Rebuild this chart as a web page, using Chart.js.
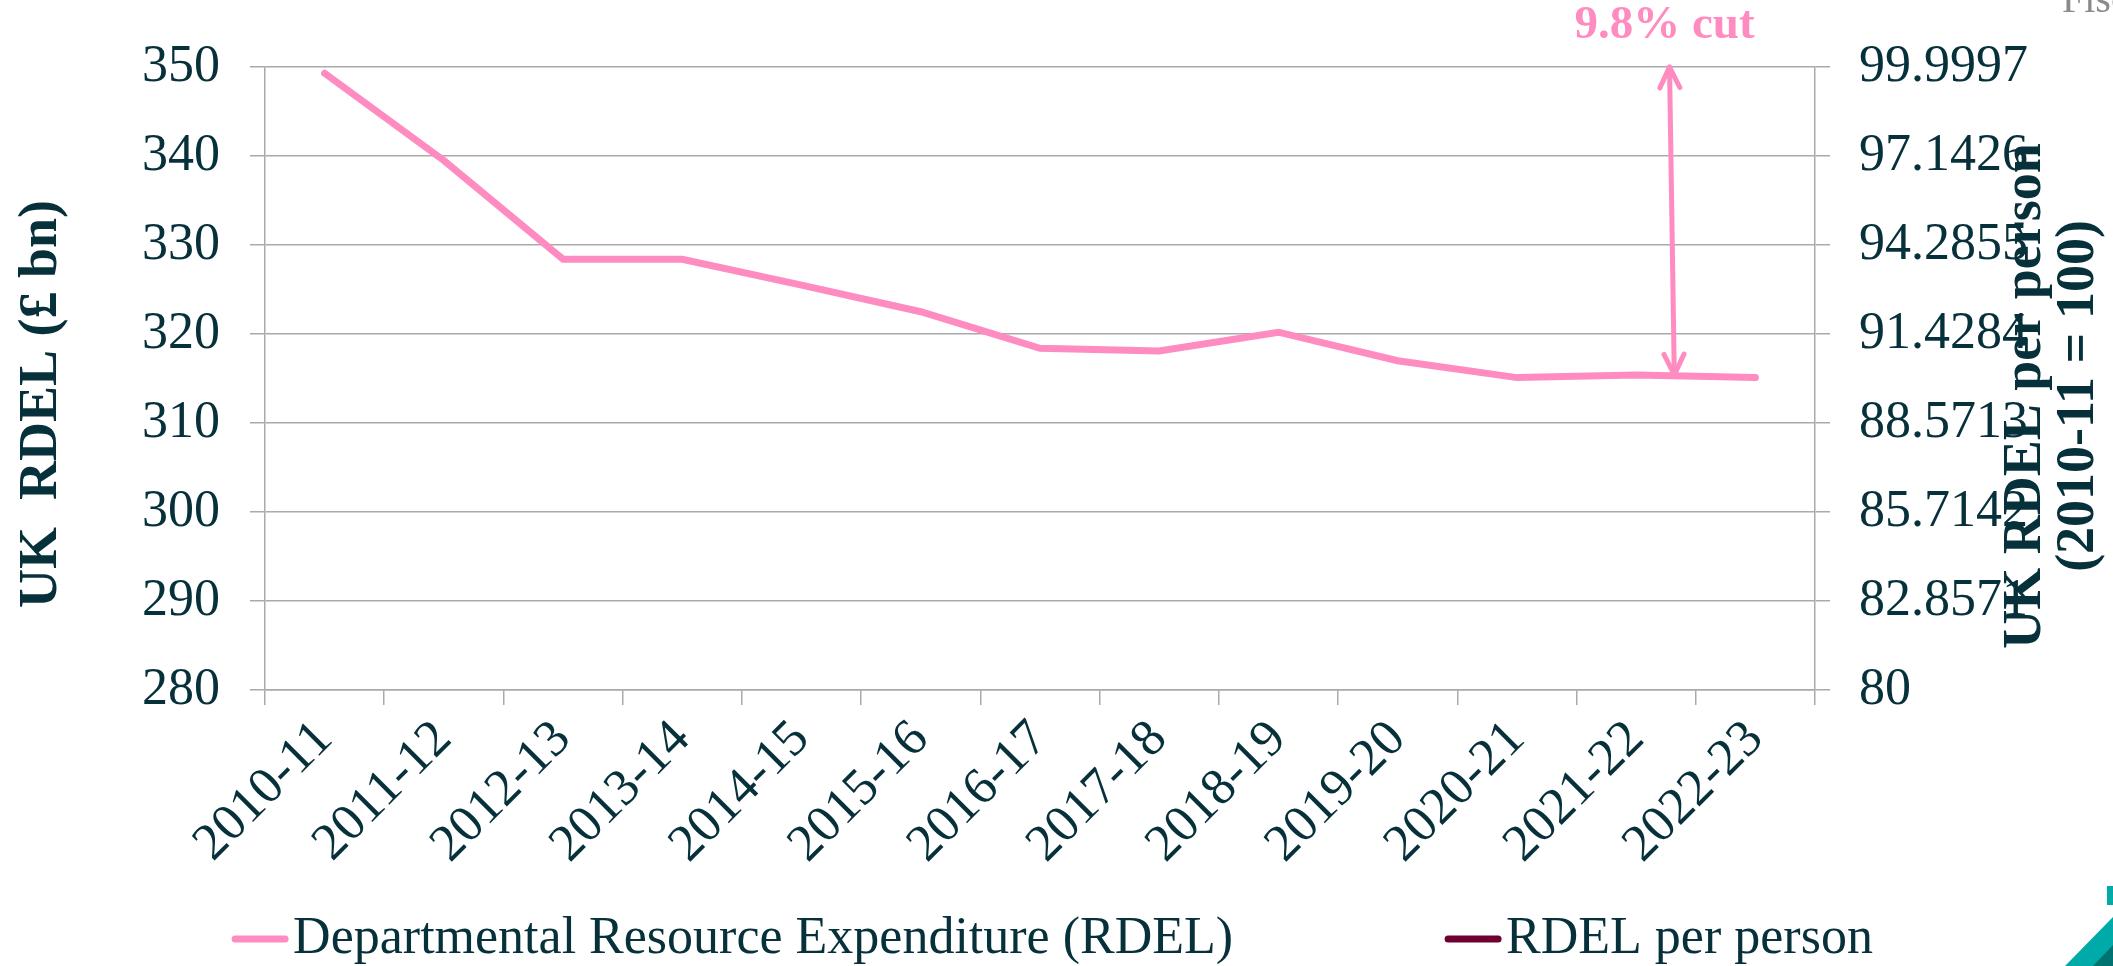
<!DOCTYPE html>
<html>
<head>
<meta charset="utf-8">
<script src="https://cdn.jsdelivr.net/npm/chart.js@4.4.0/dist/chart.umd.min.js"></script>
<style>
  html, body { margin: 0; padding: 0; background: #fff; }
  #wrap { width: 2113px; height: 966px; }
</style>
</head>
<body>
<div id="wrap"><canvas id="rdelChart" width="2113" height="966"></canvas></div>
<script>
const years = ["2010-11", "2011-12", "2012-13", "2013-14", "2014-15", "2015-16", "2016-17",
  "2017-18", "2018-19", "2019-20", "2020-21", "2021-22", "2022-23"];
const rdel = [349.3, 339.5, 328.4, 328.4, 325.5, 322.5, 318.4, 318.1, 320.2, 317.0, 315.1, 315.4, 315.1];
const rdelPerPerson = []; // shown only in the legend
const rightTickLabels = ["80", "82.8571", "85.7142", "88.5713", "91.4284", "94.2855", "97.1426", "99.9997"];
const cutLabel = "9.8% cut";
const cutArrow = { xTop: 11.28, yTop: 350, xBottom: 11.32, yBottom: 315.4 };

const pink = "#ff8cc0";
const maroon = "#6e0032";
const ink = "#06303a";
const gridGrey = "#aaaaaa";
const serif = "'Liberation Serif', 'Times New Roman', serif";

Chart.defaults.font.family = serif;
Chart.defaults.color = ink;

function arrowHead(c, tipX, tipY, fromX, fromY) {
  const a = Math.atan2(tipY - fromY, tipX - fromX);
  const len = 23, spread = 0.45;
  c.beginPath();
  c.moveTo(tipX - len * Math.cos(a - spread), tipY - len * Math.sin(a - spread));
  c.lineTo(tipX, tipY);
  c.lineTo(tipX - len * Math.cos(a + spread), tipY - len * Math.sin(a + spread));
  c.stroke();
}

// titles, arrow note, legend and the small page bits around the chart
const extrasPlugin = {
  id: "extras",
  afterDraw(chart) {
    const c = chart.ctx;
    const xs = chart.scales.x, ys = chart.scales.y;

    const x1 = xs.getPixelForValue(cutArrow.xTop), y1 = ys.getPixelForValue(cutArrow.yTop);
    const x2 = xs.getPixelForValue(cutArrow.xBottom), y2 = ys.getPixelForValue(cutArrow.yBottom);
    c.save();
    c.strokeStyle = pink;
    c.lineWidth = 5;
    c.lineCap = "round";
    c.lineJoin = "round";
    c.beginPath();
    c.moveTo(x1, y1);
    c.lineTo(x2, y2);
    c.stroke();
    arrowHead(c, x1, y1, x2, y2);
    arrowHead(c, x2, y2, x1, y1);
    c.fillStyle = pink;
    c.font = "bold 47px " + serif;
    c.textAlign = "center";
    c.textBaseline = "alphabetic";
    c.fillText(cutLabel, x1 - 5, y1 - 29);
    c.restore();

    // axis titles
    c.save();
    c.fillStyle = ink;
    c.font = "bold 54px " + serif;
    c.textAlign = "center";
    c.textBaseline = "alphabetic";
    c.translate(56, 404);
    c.rotate(-Math.PI / 2);
    c.fillText("UK  RDEL (£ bn)", 0, 0);
    c.restore();

    c.save();
    c.fillStyle = ink;
    c.font = "bold 54px " + serif;
    c.textAlign = "center";
    c.textBaseline = "alphabetic";
    c.translate(2040, 396);
    c.rotate(-Math.PI / 2);
    c.fillText("UK RDEL per person", 0, 0);
    c.fillText("(2010-11 = 100)", 0, 53);
    c.restore();

    // legend
    c.save();
    c.font = "52px " + serif;
    c.textAlign = "left";
    c.textBaseline = "alphabetic";
    const items = chart.data.datasets.map(d => ({ text: d.label, color: d.borderColor }));
    const lineLen = 56, textGap = 5, itemGap = 212;
    const widths = items.map(it => c.measureText(it.text).width);
    let total = 0;
    widths.forEach((w, i) => { total += lineLen + textGap + w + (i > 0 ? itemGap : 0); });
    let lx = (chart.width - total) / 2 - 4;
    items.forEach((it, i) => {
      c.strokeStyle = it.color;
      c.lineWidth = 7;
      c.lineCap = "round";
      c.beginPath();
      c.moveTo(lx + 3, 939);
      c.lineTo(lx + lineLen - 3, 939);
      c.stroke();
      c.fillStyle = ink;
      c.fillText(it.text, lx + lineLen + textGap, 953);
      lx += lineLen + textGap + widths[i] + itemGap;
    });
    c.restore();

    // cut-off page furniture at the edges
    c.save();
    c.fillStyle = "#8a8a8a";
    c.font = "40px " + serif;
    c.textAlign = "left";
    c.fillText("Fiscal", 2062, 12);
    c.fillStyle = "#00aaa8";
    c.fillRect(2107, 886, 6, 19);
    c.beginPath();
    c.moveTo(2065, 966); c.lineTo(2113, 917); c.lineTo(2113, 966); c.closePath();
    c.fill();
    c.fillStyle = "#007370";
    c.beginPath();
    c.moveTo(2093, 966); c.lineTo(2113, 945); c.lineTo(2113, 966); c.closePath();
    c.fill();
    c.restore();
  }
};

const ctx = document.getElementById("rdelChart").getContext("2d");
const chart = new Chart(ctx, {
  type: "line",
  data: {
    labels: years,
    datasets: [
      {
        label: "Departmental Resource Expenditure (RDEL)",
        data: rdel,
        borderColor: pink,
        backgroundColor: pink,
        borderWidth: 7,
        borderCapStyle: "round",
        pointRadius: 0,
        tension: 0,
        yAxisID: "y",
      },
      {
        label: "RDEL per person",
        data: rdelPerPerson,
        borderColor: maroon,
        backgroundColor: maroon,
        borderWidth: 7,
        pointRadius: 0,
        yAxisID: "y1",
      },
    ],
  },
  options: {
    responsive: false,
    animation: false,
    layout: {
      padding: { top: 67, bottom: 100, left: 0, right: 0 },
    },
    plugins: {
      legend: { display: false },
      tooltip: { enabled: false },
      title: { display: false },
    },
    scales: {
      x: {
        offset: true,
        ticks: {
          color: ink,
          font: { size: 52 },
          minRotation: 45,
          maxRotation: 45,
          autoSkip: false,
          padding: 4,
        },
        grid: {
          offset: true,
          drawOnChartArea: false,
          color: gridGrey,
          lineWidth: 1.5,
          tickLength: 15,
        },
        border: { color: gridGrey, width: 1.5 },
        afterFit(scale) { scale.height = 176; },
      },
      y: {
        position: "left",
        min: 280,
        max: 350,
        ticks: { stepSize: 10, color: ink, font: { size: 52 }, padding: 30 },
        grid: { color: gridGrey, lineWidth: 1.5, tickLength: 15 },
        border: { color: gridGrey, width: 1.5 },
        afterFit(scale) { scale.width = 265; },
      },
      y1: {
        position: "right",
        min: 80,
        max: 99.9997,
        afterBuildTicks(scale) {
          scale.ticks = rightTickLabels.map(v => ({ value: parseFloat(v) }));
        },
        ticks: {
          color: ink,
          font: { size: 52 },
          padding: 29,
          callback: (v, i) => rightTickLabels[i],
        },
        grid: { drawOnChartArea: false, color: gridGrey, lineWidth: 1.5, tickLength: 15 },
        border: { color: gridGrey, width: 1.5 },
        afterFit(scale) { scale.width = 298; },
      },
    },
  },
  plugins: [extrasPlugin],
});
</script>
</body>
</html>
